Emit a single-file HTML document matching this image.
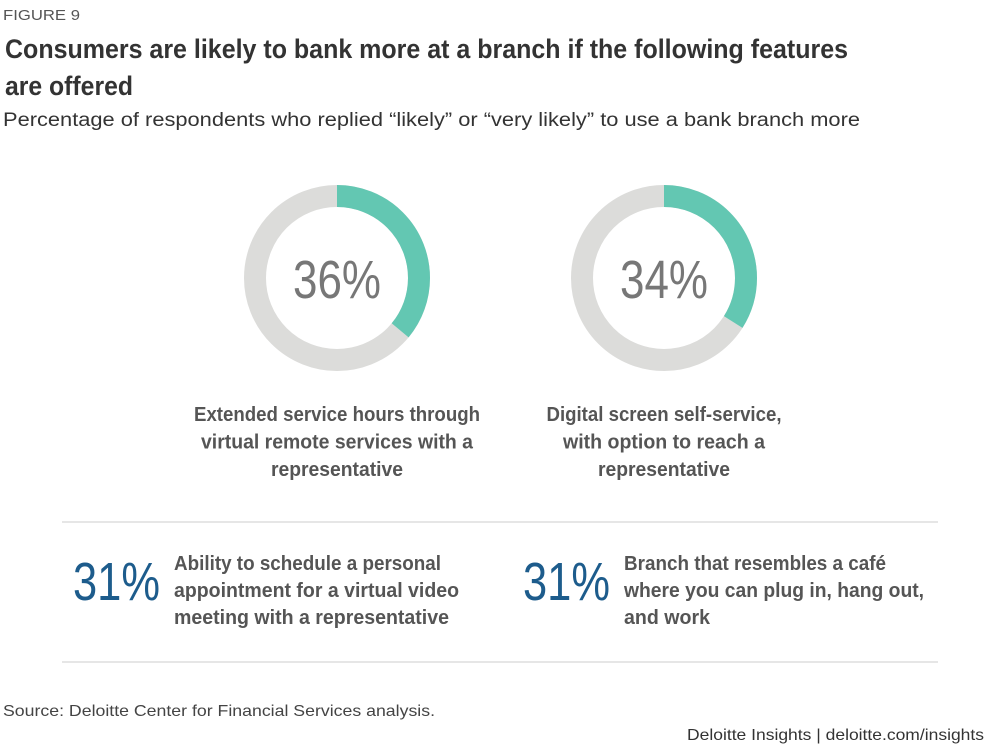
<!DOCTYPE html>
<html><head><meta charset="utf-8"><style>
html,body{margin:0;padding:0;background:#fff;width:1000px;height:747px;overflow:hidden}
svg{display:block}
text{font-family:"Liberation Sans",sans-serif}
</style></head><body>
<svg width="1000" height="747" viewBox="0 0 1000 747">
<text x="3" y="20" font-size="15" fill="#555" textLength="77" lengthAdjust="spacingAndGlyphs">FIGURE 9</text>
<text x="5" y="58" font-size="27" font-weight="bold" fill="#333" textLength="843" lengthAdjust="spacingAndGlyphs">Consumers are likely to bank more at a branch if the following features</text>
<text x="5" y="95" font-size="27" font-weight="bold" fill="#333" textLength="128" lengthAdjust="spacingAndGlyphs">are offered</text>
<text x="3" y="126" font-size="19" fill="#333" textLength="857" lengthAdjust="spacingAndGlyphs">Percentage of respondents who replied “likely” or “very likely” to use a bank branch more</text>
<g id="donuts"></g>
<line x1="62" y1="522" x2="938" y2="522" stroke="#ddd" stroke-width="1.5"/>
<line x1="62" y1="662" x2="938" y2="662" stroke="#ddd" stroke-width="1.5"/>
<g id="stats"></g>
<text x="3" y="716" font-size="16" fill="#444" textLength="432" lengthAdjust="spacingAndGlyphs">Source: Deloitte Center for Financial Services analysis.</text>
<text x="687" y="740" font-size="16" fill="#333" textLength="297" lengthAdjust="spacingAndGlyphs">Deloitte Insights | deloitte.com/insights</text>
</svg>
<script>
const donutValues=[36,34];
const donutLabels=[["Extended service hours through","virtual remote services with a","representative"],["Digital screen self-service,","with option to reach a","representative"]];
const statValues=[31,31];
const statLabels=[["Ability to schedule a personal","appointment for a virtual video","meeting with a representative"],["Branch that resembles a café","where you can plug in, hang out,","and work"]];
const NS="http://www.w3.org/2000/svg";
function mk(tag,attrs,parent){const e=document.createElementNS(NS,tag);for(const k in attrs)e.setAttribute(k,attrs[k]);parent.appendChild(e);return e;}
const cxs=[337,664],cy=278,R=82,SW=22;
const dLineW=[[286,272,132],[235,202,132]];
const dg=document.getElementById('donuts');
const C=2*Math.PI*R;
donutValues.forEach((v,i)=>{
  const g=mk('g',{},dg);
  
  
  const bg=mk('circle',{cx:cxs[i],cy:cy,r:R,fill:'none',stroke:'#dcdcda','stroke-width':SW},g);
  
  
  const arc=mk('circle',{cx:cxs[i],cy:cy,r:R,fill:'none',stroke:'#63c7b2','stroke-width':SW,'stroke-dasharray':(C*v/100)+' '+C,transform:'rotate(-90 '+cxs[i]+' '+cy+')'},g);
  
  
  const t=mk('text',{x:cxs[i],y:298,'text-anchor':'middle','font-size':54,fill:'#777',textLength:88,lengthAdjust:'spacingAndGlyphs'},g);
  t.textContent=v+'%';
  
  
  donutLabels[i].forEach((ln,j)=>{
    const l=mk('text',{x:cxs[i],y:421+j*27.5,'text-anchor':'middle','font-size':20,'font-weight':'bold',fill:'#555',textLength:dLineW[i][j],lengthAdjust:'spacingAndGlyphs'},g);
    l.textContent=ln;
    
    
  });
});
const sg=document.getElementById('stats');
const sx=[73,523],tx=[174,624];
const lineW=[[267,285,275],[262,300,86]];
statValues.forEach((v,i)=>{
  const g=mk('g',{},sg);
  
  
  const n=mk('text',{x:sx[i],y:600,'font-size':54,fill:'#1d5c8c',textLength:87,lengthAdjust:'spacingAndGlyphs'},g);
  n.textContent=v+'%';
  
  
  statLabels[i].forEach((ln,j)=>{
    const l=mk('text',{x:tx[i],y:570+j*27,'font-size':20,'font-weight':'bold',fill:'#555',textLength:lineW[i][j],lengthAdjust:'spacingAndGlyphs'},g);
    l.textContent=ln;
    
    
  });
});
</script>
</body></html>
